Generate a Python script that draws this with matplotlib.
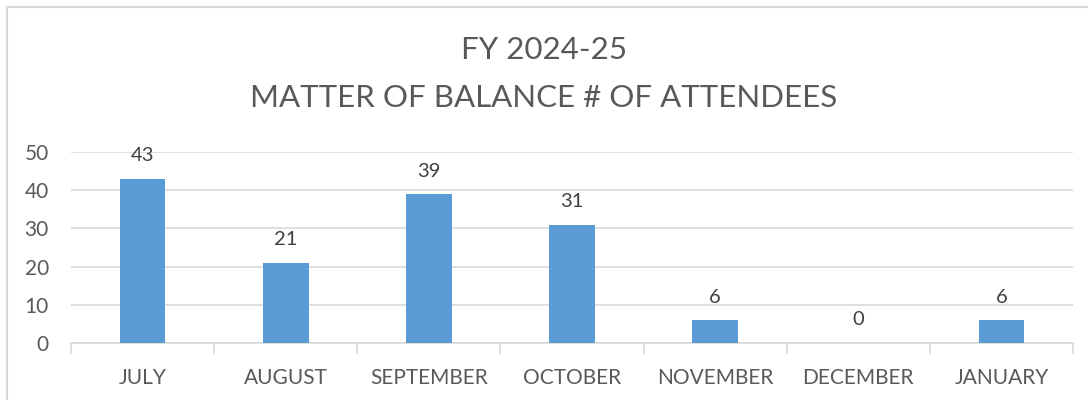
import matplotlib.pyplot as plt
from matplotlib.patches import Rectangle

months = ["JULY", "AUGUST", "SEPTEMBER", "OCTOBER", "NOVEMBER", "DECEMBER", "JANUARY"]
attendees = [43, 21, 39, 31, 6, 0, 6]
yticks = [0, 10, 20, 30, 40, 50]

plt.rcParams['font.family'] = ['Lato', 'DejaVu Sans']
txt = '#595959'

fig = plt.figure(figsize=(10.88, 4), dpi=100)
# outer chart border (cropped at right/bottom)
fig.patches.append(Rectangle((7 / 1088, -0.1), 1.2, 1 - 7 / 400 + 0.1,
                             transform=fig.transFigure, fill=False,
                             edgecolor='#d9d9d9', linewidth=1.5))

ax = fig.add_axes([71 / 1088, 1 - 343 / 400, (1073 - 71) / 1088, (343 - 152) / 400])
x = range(len(months))
ax.bar(x, attendees, width=0.32, color='#5b9bd5', zorder=3)
for i, v in enumerate(attendees):
    ax.text(i, v + 3.8, str(v), ha='center', va='bottom', fontsize=14.5, color='#404040')

ax.set_xlim(-0.5, len(months) - 0.5)
ax.set_ylim(0, 50)
ax.set_yticks(yticks)
ax.grid(axis='y', color='#d9d9d9', linewidth=1.2, zorder=0)
for s in ['top', 'right', 'left']:
    ax.spines[s].set_visible(False)
ax.spines['bottom'].set_color('#d9d9d9')
ax.spines['bottom'].set_linewidth(1.2)
ax.tick_params(axis='y', length=0, labelsize=15, labelcolor=txt, pad=16)
ax.set_xticks(x)
ax.set_xticklabels(months)
ax.tick_params(axis='x', length=0, labelsize=15, labelcolor=txt, pad=18)
ax.set_xticks([i - 0.5 for i in range(len(months) + 1)], minor=True)
ax.tick_params(axis='x', which='minor', length=8, color='#d9d9d9', width=1.2)

fig.text(0.5, 1 - 50 / 400, "FY 2024-25", ha='center', va='center', fontsize=22.5, color=txt)
fig.text(0.5, 1 - 98 / 400, "MATTER OF BALANCE # OF ATTENDEES", ha='center', va='center',
         fontsize=22.5, color=txt)

fig.savefig('out.png', dpi=100)
